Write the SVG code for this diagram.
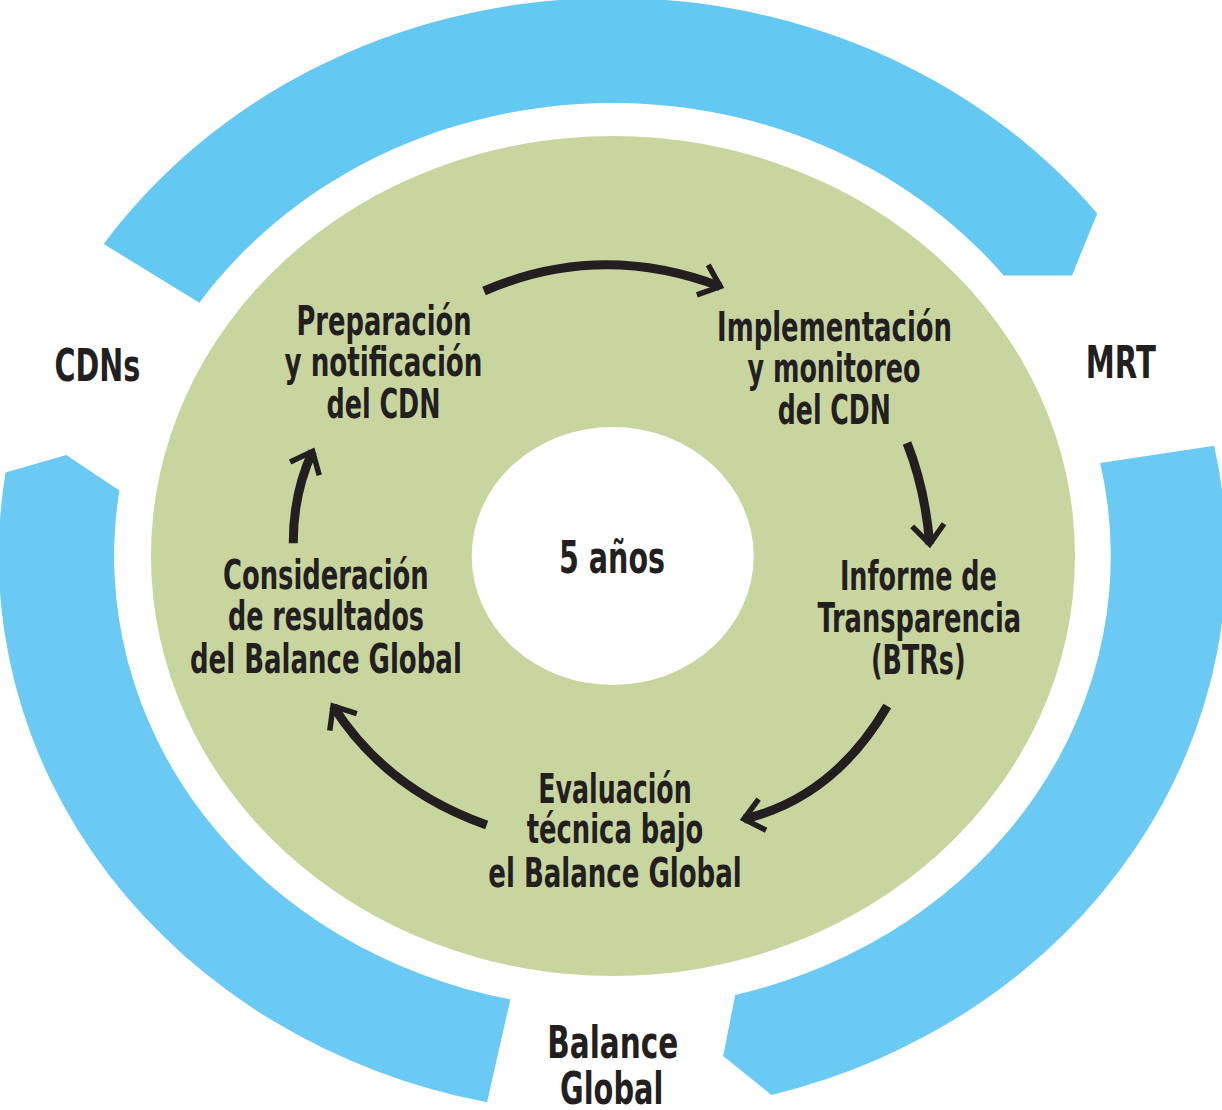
<svg xmlns="http://www.w3.org/2000/svg" width="1222" height="1110" viewBox="0 0 1222 1110">
<style>
.t{font-family:"Liberation Sans Narrow","DejaVu Sans Condensed","Liberation Sans",sans-serif;font-weight:bold;fill:#231F20;text-anchor:middle}
.in{font-size:40px}
.lab{font-size:45px}
.band{fill:#6ACAF3}
.band-top{fill:#63C8F2}
.arrow{fill:none;stroke:#231F20;stroke-width:9;stroke-linecap:butt}
</style>
<defs>
<marker id="head" markerUnits="userSpaceOnUse" orient="auto" markerWidth="60" markerHeight="60" refX="0" refY="0" style="overflow:visible">
<path d="M -19 -16 L 0 0 L -19 16" fill="none" stroke="#231F20" stroke-width="5.5" stroke-linejoin="miter"/>
</marker>
</defs>
<rect x="0" y="0" width="1222" height="1110" fill="#FFFFFF"/>
<g id="bands">
<path id="band-cdns" class="band-top" d="M 103.7 244.0 A 613.8 558 0 0 1 1097.2 213.4 L 1072 275.4 L 1003.7 275.4 A 498.3 453 0 0 0 199.4 302.7 Z"/>
<path id="band-mrt" class="band" d="M 1100.2 463.1 L 1214.2 445.8 A 613.8 558 0 0 1 771.4 1095.0 L 723.2 1055.9 L 735.2 995.0 A 498.3 453 0 0 0 1100.2 463.1 Z"/>
<path id="band-gst" class="band" d="M 510.4 999.4 L 487.0 1102.2 A 613.8 558 0 0 1 5.6 472.6 L 66.3 455 L 119.4 490.4 A 498.3 453 0 0 0 510.4 999.4 Z"/>
</g>
<g id="disc">
<ellipse cx="613" cy="556" rx="462" ry="420" fill="#C8D59F"/>
<ellipse cx="612.7" cy="556" rx="141" ry="129" fill="#FFFFFF"/>
</g>
<g id="connectors">
<path class="arrow" marker-end="url(#head)" d="M 484 291 Q 600 241 720.3 286.6"/>
<path class="arrow" marker-end="url(#head)" d="M 907 443 Q 925 488 929.7 544"/>
<path class="arrow" marker-end="url(#head)" d="M 887.3 706 Q 834 797.5 743.9 819.1"/>
<path class="arrow" marker-end="url(#head)" d="M 486.7 825 Q 386 789.5 333.1 706.1"/>
<path class="arrow" marker-end="url(#head)" d="M 293.3 543.3 Q 293 494 312.6 451.3"/>
</g>
<g id="node-center">
<text class="t lab" x="612" y="573.3" textLength="106" lengthAdjust="spacingAndGlyphs">5 años</text>
</g>
<g id="node-preparacion">
<text class="t in" x="384" y="334.5" textLength="175" lengthAdjust="spacingAndGlyphs">Preparación</text>
<text class="t in" x="383.5" y="376" textLength="198" lengthAdjust="spacingAndGlyphs">y notificación</text>
<text class="t in" x="383.5" y="417.7" textLength="114" lengthAdjust="spacingAndGlyphs">del CDN</text>
</g>
<g id="node-implementacion">
<text class="t in" x="834.5" y="340.5" textLength="235" lengthAdjust="spacingAndGlyphs">Implementación</text>
<text class="t in" x="834" y="382.3" textLength="173" lengthAdjust="spacingAndGlyphs">y monitoreo</text>
<text class="t in" x="834.3" y="424" textLength="113" lengthAdjust="spacingAndGlyphs">del CDN</text>
</g>
<g id="node-informe">
<text class="t in" x="918.4" y="590.4" textLength="157" lengthAdjust="spacingAndGlyphs">Informe de</text>
<text class="t in" x="919.3" y="632.2" textLength="203.5" lengthAdjust="spacingAndGlyphs">Transparencia</text>
<text class="t in" x="918.3" y="673.6" textLength="94.6" lengthAdjust="spacingAndGlyphs">(BTRs)</text>
</g>
<g id="node-evaluacion">
<text class="t in" x="615" y="803.3" textLength="153.4" lengthAdjust="spacingAndGlyphs">Evaluación</text>
<text class="t in" x="615" y="843.3" textLength="176.6" lengthAdjust="spacingAndGlyphs">técnica bajo</text>
<text class="t in" x="615" y="886.7" textLength="253.4" lengthAdjust="spacingAndGlyphs">el Balance Global</text>
</g>
<g id="node-consideracion">
<text class="t in" x="325.9" y="588.6" textLength="205.7" lengthAdjust="spacingAndGlyphs">Consideración</text>
<text class="t in" x="326" y="630.4" textLength="196" lengthAdjust="spacingAndGlyphs">de resultados</text>
<text class="t in" x="325.9" y="672.5" textLength="271.8" lengthAdjust="spacingAndGlyphs">del Balance Global</text>
</g>
<g id="label-cdns">
<text class="t lab" x="97.4" y="380.5" textLength="85.8" lengthAdjust="spacingAndGlyphs">CDNs</text>
</g>
<g id="label-mrt">
<text class="t lab" x="1120.8" y="378" textLength="70" lengthAdjust="spacingAndGlyphs">MRT</text>
</g>
<g id="label-balance">
<text class="t lab" x="612.8" y="1058" textLength="131" lengthAdjust="spacingAndGlyphs">Balance</text>
<text class="t lab" x="611.7" y="1104" textLength="103.3" lengthAdjust="spacingAndGlyphs">Global</text>
</g>
</svg>
